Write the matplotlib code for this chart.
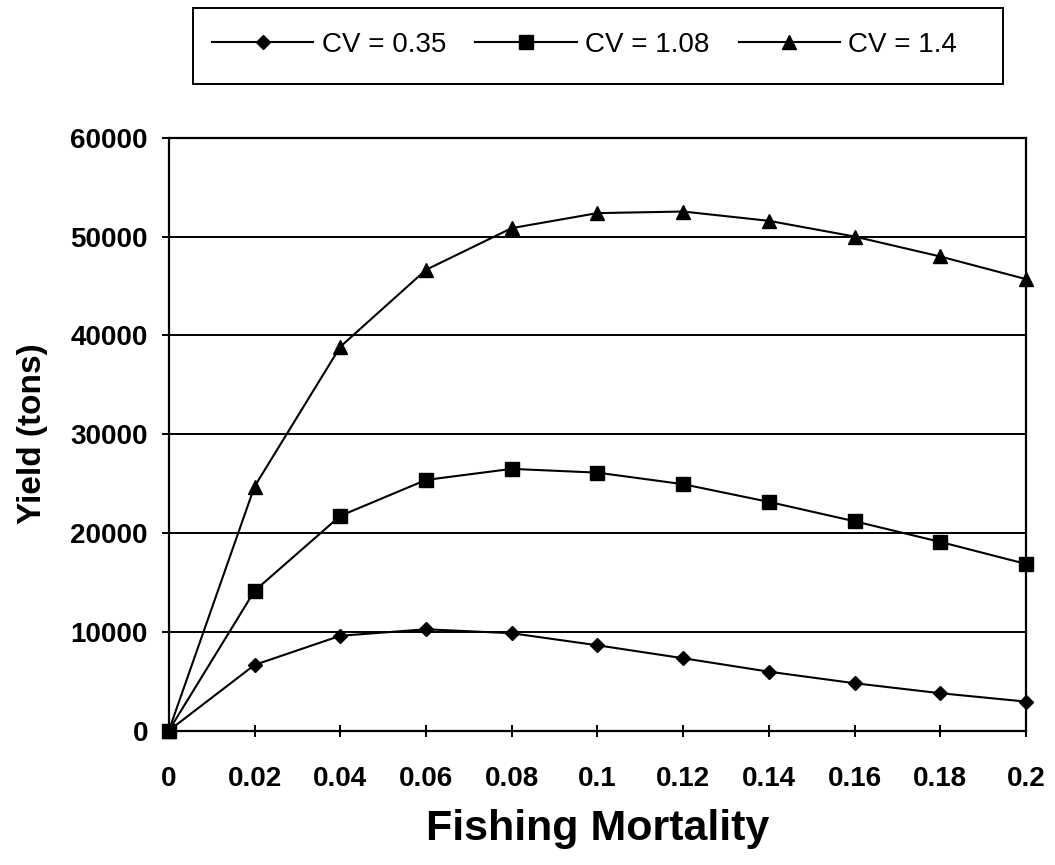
import matplotlib

matplotlib.use("Agg")
from matplotlib import pyplot as plt
from matplotlib.patches import Rectangle

# Yield per fishing mortality for three recruitment CVs
mortality = [0, 0.02, 0.04, 0.06, 0.08, 0.1, 0.12, 0.14, 0.16, 0.18, 0.2]
mortality_labels = ["0", "0.02", "0.04", "0.06", "0.08", "0.1",
                    "0.12", "0.14", "0.16", "0.18", "0.2"]
yield_cv035 = [0, 6650, 9600, 10260, 9860, 8640, 7330, 5970, 4800, 3790, 2940]
yield_cv108 = [0, 14140, 21730, 25370, 26490, 26110, 24940, 23150, 21190, 19100, 16870]
yield_cv140 = [0, 24700, 38840, 46630, 50850, 52370, 52530, 51590, 50000, 47980, 45690]
series_labels = ["CV = 0.35", "CV = 1.08", "CV = 1.4"]
yield_ticks = [0, 10000, 20000, 30000, 40000, 50000, 60000]

plt.rcParams["font.family"] = ["Liberation Sans", "DejaVu Sans"]

W, H = 1055, 865
fig = plt.figure(figsize=(W / 100, H / 100), dpi=100)
ax = fig.add_axes([0.160, 0.1553, 0.8125, 0.6855])

for values, marker, size, label in [
    (yield_cv035, "D", 7, series_labels[0]),
    (yield_cv108, "s", 9.5, series_labels[1]),
    (yield_cv140, "^", 10.5, series_labels[2]),
]:
    ax.plot(mortality, values, color="black", lw=1.5, marker=marker,
            markersize=size, markerfacecolor="black", markeredgecolor="black",
            label=label, clip_on=False, zorder=3)

ax.set_xlim(0, 0.2)
ax.set_ylim(0, 60000)
ax.set_xticks(mortality)
ax.set_xticklabels(mortality_labels)
ax.set_yticks(yield_ticks)
ax.set_yticklabels([str(v) for v in yield_ticks])

for v in yield_ticks[1:]:
    ax.axhline(v, color="black", lw=1.4, zorder=1)

for spine in ax.spines.values():
    spine.set_linewidth(1.6)
    spine.set_color("black")

ax.tick_params(axis="x", direction="inout", length=9, width=1.4, pad=21,
               labelsize=20)
ax.tick_params(axis="y", direction="out", length=5, width=1.4, pad=10,
               labelsize=20)
for lbl in ax.get_xticklabels() + ax.get_yticklabels():
    lbl.set_fontweight("bold")

ax.set_xlabel("Fishing Mortality", fontsize=31, fontweight="bold", labelpad=12)
ax.set_ylabel("Yield (tons)", fontsize=24, fontweight="bold", labelpad=16)

# legend entries without their own frame, boxed by a separate rectangle
leg = fig.legend(loc="center left", bbox_to_anchor=(212 / W, 1 - 45 / H),
                 ncol=3, fontsize=20, frameon=False, handlelength=3.65,
                 columnspacing=1.05, handletextpad=0.3, borderpad=0,
                 borderaxespad=0)
fig.patches.append(Rectangle((193 / W, 1 - 84 / H), 810 / W, 76 / H,
                             transform=fig.transFigure, fill=False,
                             edgecolor="black", lw=1.4))

fig.savefig("out.png", dpi=100, facecolor="white")
